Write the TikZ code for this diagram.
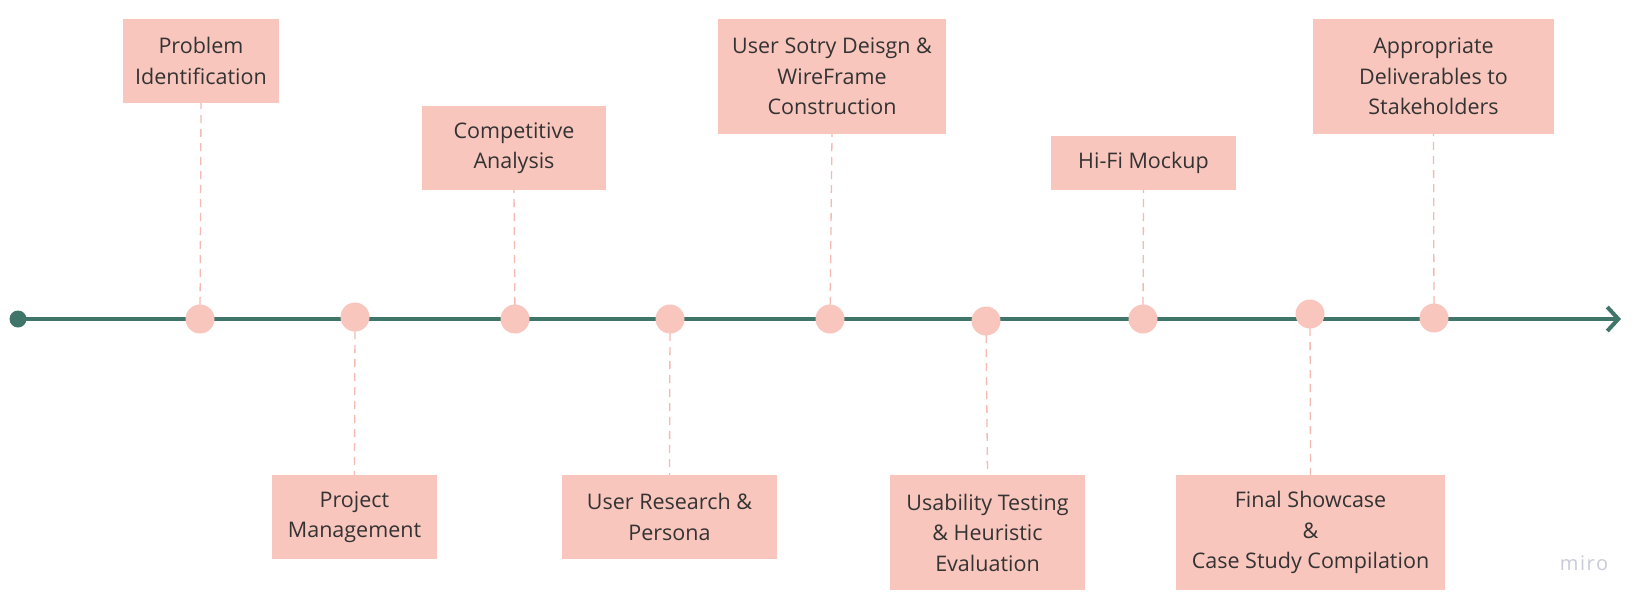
\documentclass[tikz,border=0pt]{standalone}
\usepackage{fontspec}
\setmainfont{Open Sans}
\usetikzlibrary{arrows.meta}
\definecolor{boxpink}{HTML}{F9C6BD}
\definecolor{tickpink}{HTML}{F4B9B0}
\definecolor{lineteal}{HTML}{3F7669}
\definecolor{inkgrey}{HTML}{333333}
\definecolor{logogrey}{HTML}{C8CAD7}

\begin{document}
\begin{tikzpicture}[x=1pt, y=-1pt,
    phase/.style={fill=boxpink, inner sep=0pt, align=center, text=inkgrey,
      font=\fontsize{21.5}{30.5}\selectfont},
    milestone/.style={circle, fill=boxpink, minimum size=29pt, inner sep=0pt},
    tick/.style={tickpink, line width=1.3pt, dash pattern=on 8pt off 6pt}]
    \useasboundingbox (0,0) rectangle (1644,608);

    % phase boxes, above and below the line
    \node[phase, minimum width=156pt, minimum height=84pt] at (201,61) (prob) {Problem \\ Identification};
    \node[phase, minimum width=165pt, minimum height=84pt] at (354.5,517) (proj) {Project \\ Management};
    \node[phase, minimum width=184pt, minimum height=84pt] at (514,148) (comp) {Competitive \\ Analysis};
    \node[phase, minimum width=215pt, minimum height=84pt] at (669.5,517) (ures) {User Research \& \\ Persona};
    \node[phase, minimum width=228pt, minimum height=115pt] at (832,76.5) (story) {User Sotry Deisgn \& \\ WireFrame \\ Construction};
    \node[phase, minimum width=195pt, minimum height=115pt] at (987.5,532.5) (usab) {Usability Testing \\ \& Heuristic \\ Evaluation};
    \node[phase, minimum width=185pt, minimum height=54pt] at (1143.5,163) (hifi) {Hi-Fi Mockup};
    \node[phase, minimum width=269pt, minimum height=115pt] at (1310.5,532.5) (final) {Final Showcase \\ \& \\ Case Study Compilation};
    \node[phase, minimum width=241pt, minimum height=115pt] at (1433.5,76.5) (deliv) {Appropriate \\ Deliverables to \\ Stakeholders};

    % points on the line
    \coordinate (m1) at (200,319);
    \coordinate (m2) at (355,317);
    \coordinate (m3) at (515,319);
    \coordinate (m4) at (670,319);
    \coordinate (m5) at (830,319);
    \coordinate (m6) at (986,321);
    \coordinate (m7) at (1143,319);
    \coordinate (m8) at (1310,314);
    \coordinate (m9) at (1434,318);

    \draw[tick] (m1) -- (prob.south);
    \draw[tick] (m2) -- (proj.north);
    \draw[tick] (m3) -- (comp.south);
    \draw[tick] (m4) -- (ures.north);
    \draw[tick] (m5) -- (story.south);
    \draw[tick] (m6) -- (usab.north);
    \draw[tick] (m7) -- (hifi.south);
    \draw[tick] (m8) -- (final.north);
    \draw[tick] (m9) -- (deliv.south);

    % the time line
    \node[circle, fill=lineteal, minimum size=17pt, inner sep=0pt] at (18,319) (start) {};
    \coordinate (finish) at (1621,319);
    \draw[lineteal, line width=4.5pt, -{Straight Barb[length=11pt, width=24pt, line width=4pt]}] (start.center) -- (finish);

    \node[milestone] at (m1) (p1) {};
    \node[milestone] at (m2) (p2) {};
    \node[milestone] at (m3) (p3) {};
    \node[milestone] at (m4) (p4) {};
    \node[milestone] at (m5) (p5) {};
    \node[milestone] at (m6) (p6) {};
    \node[milestone] at (m7) (p7) {};
    \node[milestone] at (m8) (p8) {};
    \node[milestone] at (m9) (p9) {};

    \node[text=logogrey, font=\fontsize{20}{24}\selectfont] at (1584,563) (logo) {\addfontfeatures{LetterSpace=8}miro};
\end{tikzpicture}
\end{document}
